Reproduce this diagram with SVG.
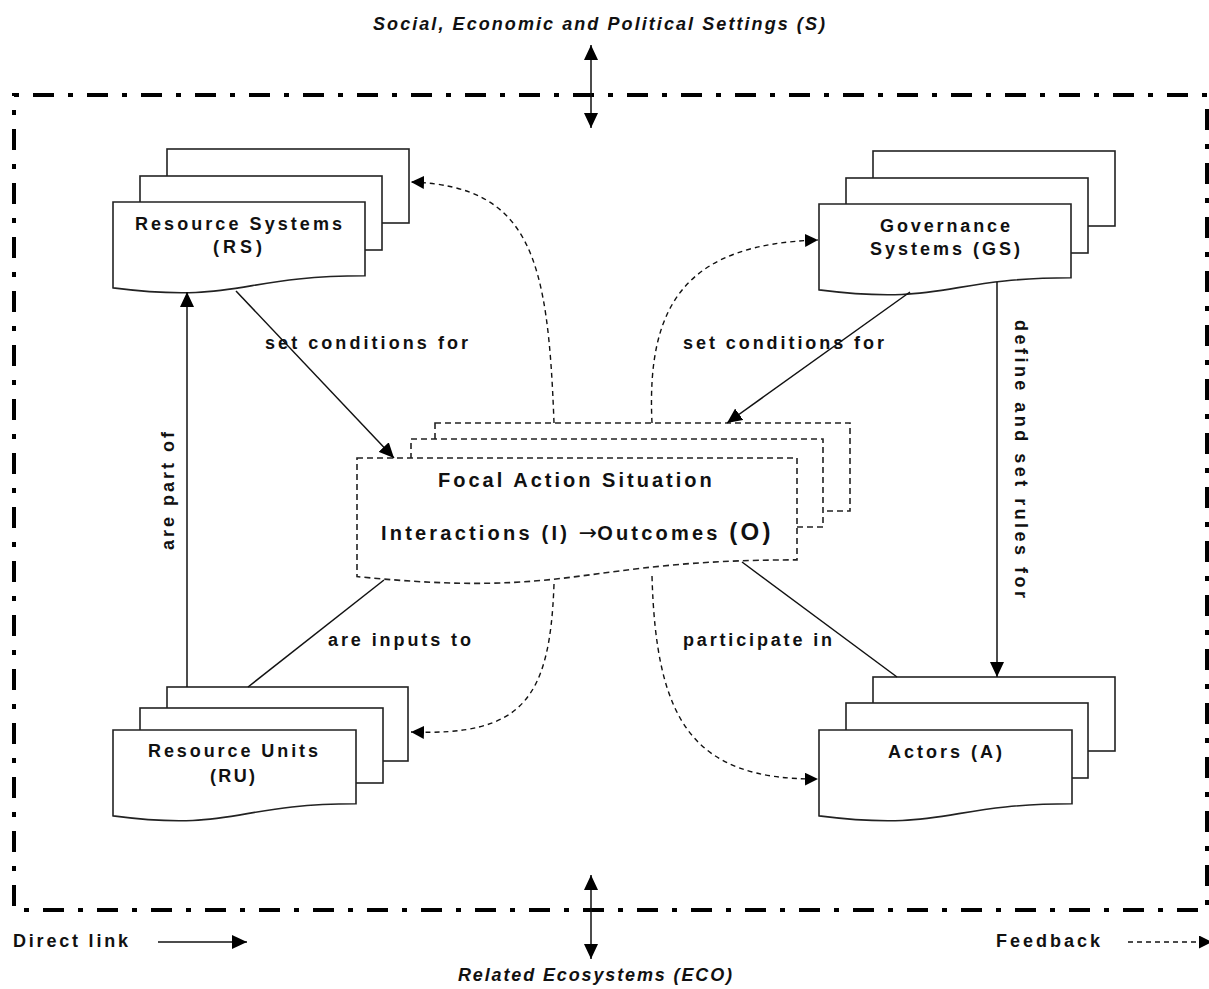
<svg xmlns="http://www.w3.org/2000/svg" width="1209" height="989" viewBox="0 0 1209 989">
  <style>
    .lbl { font-family: "Liberation Sans", Arial, sans-serif; font-weight: bold; font-size: 18px; fill: #111; }
    .ttl { font-family: "Liberation Sans", Arial, sans-serif; font-weight: bold; font-style: italic; font-size: 18px; fill: #111; }
    .big { font-family: "Liberation Sans", Arial, sans-serif; font-weight: bold; font-size: 20px; fill: #111; letter-spacing: 3.2px; }
    .page { fill: #fff; stroke: #222; stroke-width: 1.6; }
    .dpage { fill: #fff; stroke: #222; stroke-width: 1.6; stroke-dasharray: 6 4; }
    .link { fill: none; stroke: #111; stroke-width: 1.5; }
    .fb { fill: none; stroke: #111; stroke-width: 1.4; stroke-dasharray: 5 4; }
    .frame { fill: none; stroke: #000; stroke-width: 4; stroke-dasharray: 5 14 21 14; }
  </style>
  <defs>
    <marker id="solid" markerUnits="userSpaceOnUse" markerWidth="16" markerHeight="14" refX="15" refY="7" orient="auto-start-reverse">
      <path d="M0,0 L15,7 L0,14 Z" fill="#000"/>
    </marker>
    <marker id="open" markerUnits="userSpaceOnUse" markerWidth="14" markerHeight="13" refX="13" refY="6.5" orient="auto">
      <path d="M0,0 L13,6.5 L0,13 Z" fill="#000"/>
    </marker>
  </defs>

  <rect width="1209" height="989" fill="#fff"/>

  <!-- outer system boundary -->
  <g id="boundary">
    <rect class="frame" x="14" y="95" width="1193" height="815"/>
  </g>

  <!-- settings / ecosystems labels -->
  <g id="settings">
    <text class="ttl" x="373" y="30" textLength="452" lengthAdjust="spacing">Social, Economic and Political Settings (S)</text>
  </g>
  <g id="ecosystems">
    <text class="ttl" x="458" y="981" textLength="274" lengthAdjust="spacing">Related Ecosystems (ECO)</text>
  </g>

  <!-- Resource Systems -->
  <g id="rs">
    <rect class="page" x="167" y="149" width="242" height="74"/>
    <rect class="page" x="140" y="176" width="242" height="74"/>
    <path class="page" d="M113,202 H365 V275.8 C239,275.8 239,303.8 113,287.9 Z"/>
    <text class="lbl" x="135" y="230" textLength="207" lengthAdjust="spacing">Resource Systems</text>
    <text class="lbl" x="213" y="253" textLength="49" lengthAdjust="spacing">(RS)</text>
  </g>

  <!-- Governance Systems -->
  <g id="gs">
    <rect class="page" x="873" y="151" width="242" height="75"/>
    <rect class="page" x="846" y="178" width="242" height="75"/>
    <path class="page" d="M819,204 H1071 V277.8 C945,277.8 945,305.8 819,289.9 Z"/>
    <text class="lbl" x="880" y="232" textLength="130" lengthAdjust="spacing">Governance</text>
    <text class="lbl" x="870" y="255" textLength="150" lengthAdjust="spacing">Systems (GS)</text>
  </g>

  <!-- Resource Units -->
  <g id="ru">
    <rect class="page" x="167" y="687" width="241" height="74"/>
    <rect class="page" x="140" y="708" width="243" height="75"/>
    <path class="page" d="M113,730 H356 V803.8 C234.5,803.8 234.5,831.8 113,815.9 Z"/>
    <text class="lbl" x="148" y="757" textLength="170" lengthAdjust="spacing">Resource Units</text>
    <text class="lbl" x="210" y="782" textLength="45" lengthAdjust="spacing">(RU)</text>
  </g>

  <!-- Actors -->
  <g id="actors">
    <rect class="page" x="873" y="677" width="242" height="74"/>
    <rect class="page" x="846" y="703" width="242" height="75"/>
    <path class="page" d="M819,730 H1072 V803.8 C945.5,803.8 945.5,831.8 819,815.9 Z"/>
    <text class="lbl" x="888" y="758" textLength="114" lengthAdjust="spacing">Actors (A)</text>
  </g>

  <!-- Focal Action Situation -->
  <g id="focal">
    <rect class="dpage" x="435" y="423" width="415" height="88"/>
    <rect class="dpage" x="411" y="439" width="412" height="88"/>
    <path class="dpage" d="M357,458 H797 V559.9 C577,559.9 577,598.6 357,576.6 Z"/>
    <text class="big" x="438" y="487" textLength="277" lengthAdjust="spacing">Focal Action Situation</text>
    <text class="big" x="381" y="540">Interactions (I) <tspan font-family="'DejaVu Sans', sans-serif" font-weight="normal" font-size="22" letter-spacing="0">→</tspan>Outcomes <tspan font-size="24">(O)</tspan></text>
  </g>

  <!-- connectors -->
  <g id="connectors">
    <!-- external exchanges -->
    <line class="link" x1="591" y1="45" x2="591" y2="128" marker-start="url(#solid)" marker-end="url(#solid)"/>
    <line class="link" x1="591" y1="875" x2="591" y2="959" marker-start="url(#solid)" marker-end="url(#solid)"/>

    <!-- direct links -->
    <line class="link" x1="236" y1="291" x2="394" y2="458" marker-end="url(#solid)"/>
    <line class="link" x1="910" y1="292" x2="727" y2="423" marker-end="url(#solid)"/>
    <line class="link" x1="997" y1="282" x2="997" y2="677" marker-end="url(#solid)"/>
    <line class="link" x1="187" y1="687" x2="187" y2="292" marker-end="url(#solid)"/>
    <line class="link" x1="248" y1="687" x2="384" y2="580"/>
    <line class="link" x1="897" y1="677" x2="742" y2="562"/>

    <!-- feedback loops -->
    <path class="fb" d="M554,423 C548,260 532,186 411,182" marker-end="url(#open)"/>
    <path class="fb" d="M652,423 C646,300 690,244 818,240" marker-end="url(#open)"/>
    <path class="fb" d="M554,584 C550,700 522,736 411,732" marker-end="url(#open)"/>
    <path class="fb" d="M652,576 C656,720 692,780 818,779" marker-end="url(#open)"/>

    <!-- connector labels -->
    <text class="lbl" x="265" y="349" textLength="203" lengthAdjust="spacing">set conditions for</text>
    <text class="lbl" x="683" y="349" textLength="201" lengthAdjust="spacing">set conditions for</text>
    <text class="lbl" x="328" y="646" textLength="143" lengthAdjust="spacing">are inputs to</text>
    <text class="lbl" x="683" y="646" textLength="149" lengthAdjust="spacing">participate in</text>
    <text class="lbl" transform="translate(174,550) rotate(-90)" textLength="118" lengthAdjust="spacing">are part of</text>
    <text class="lbl" transform="translate(1015,320) rotate(90)" textLength="278" lengthAdjust="spacing">define and set rules for</text>
  </g>

  <!-- legend -->
  <g id="legend">
    <text class="lbl" x="13" y="947" textLength="115" lengthAdjust="spacing">Direct link</text>
    <line class="link" x1="158" y1="942" x2="247" y2="942" marker-end="url(#solid)"/>
    <text class="lbl" x="996" y="947" textLength="104" lengthAdjust="spacing">Feedback</text>
    <line class="fb" x1="1128" y1="942" x2="1212" y2="942" marker-end="url(#open)"/>
  </g>
</svg>
